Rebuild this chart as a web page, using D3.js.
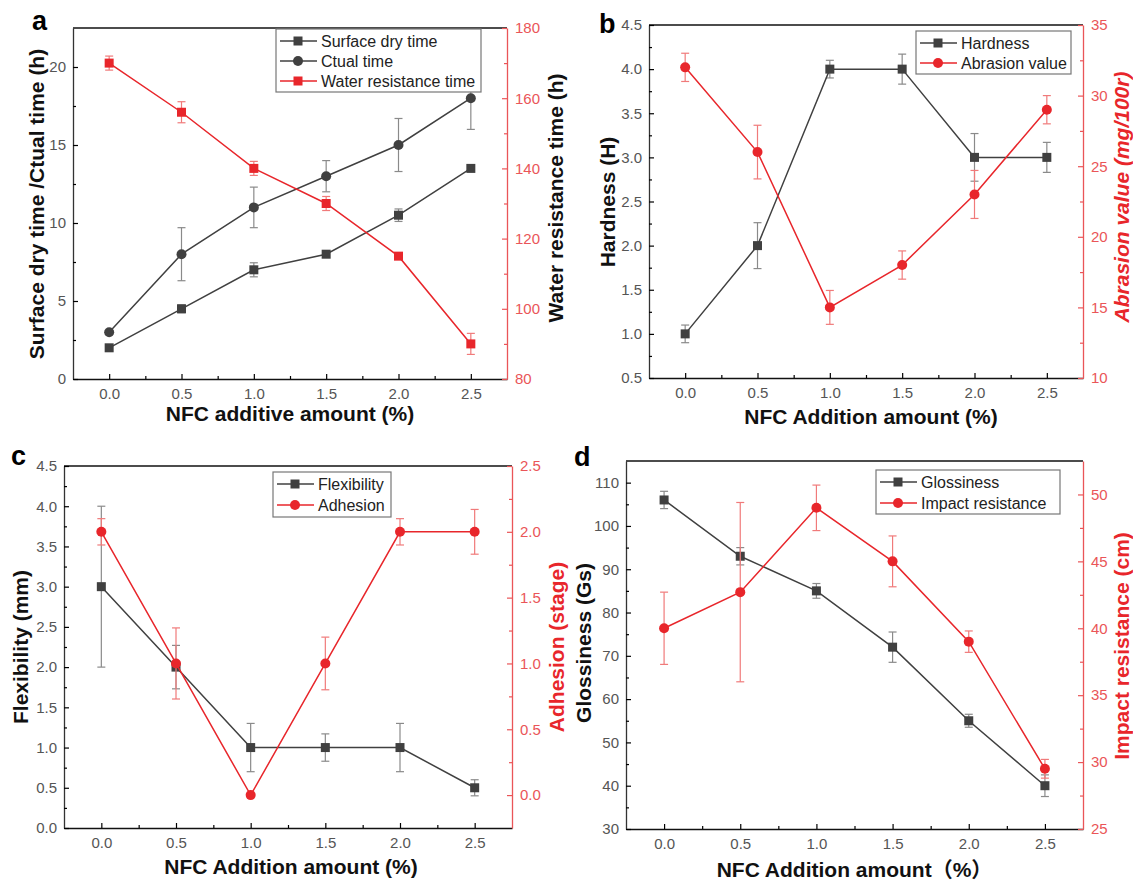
<!DOCTYPE html>
<html>
<head>
<meta charset="utf-8">
<script src="https://cdn.jsdelivr.net/npm/d3@7"></script>
<style>
body { margin: 0; background: #fff; }
text { font-family: Arial, "Liberation Sans", "Noto Sans CJK SC", sans-serif; }
</style>
</head>
<body>
<svg id="chart" width="1133" height="880"></svg>
<script>
// x values shared by all four panels
const nfcAmount = [0, 0.5, 1.0, 1.5, 2.0, 2.5];
const xTicks = [0, 0.5, 1.0, 1.5, 2.0, 2.5];
const xMinor = [0.25, 0.75, 1.25, 1.75, 2.25];

// panel a
const surfaceDry = [2, 4.5, 7, 8, 10.5, 13.5];
const surfaceDryErr = [0, 0.25, 0.45, 0, 0.4, 0];
const ctualTime = [3, 8, 11, 13, 15, 18];
const ctualTimeErr = [0, 1.7, 1.3, 1, 1.7, 2];
const waterRes = [170, 156, 140, 130, 115, 90];
const waterResErr = [2, 3, 2, 2, 0.4, 3];

// panel b
const hardness = [1, 2, 4, 4, 3, 3];
const hardnessErr = [0.1, 0.26, 0.1, 0.17, 0.27, 0.17];
const abrasion = [32, 26, 15, 18, 23, 29];
const abrasionErr = [1, 1.9, 1.2, 1, 1.7, 1];

// panel c
const flexibility = [3, 2, 1, 1, 1, 0.5];
const flexibilityErr = [1, 0.27, 0.3, 0.17, 0.3, 0.1];
const adhesion = [2, 1, 0, 1, 2, 2];
const adhesionErr = [0.1, 0.27, 0, 0.2, 0.1, 0.17];

// panel d
const glossiness = [106, 93, 85, 72, 55, 40];
const glossinessErr = [2, 2, 1.7, 3.5, 1.5, 2.5];
const impact = [40, 42.7, 49, 45, 39, 29.5];
const impactErr = [2.7, 6.7, 1.7, 1.9, 0.8, 0.7];

const DARK = "#404040", DARK_ERR = "#8a8a8a";
const RED = "#e8262b", RED_ERR = "#f07a7a", RED_AXIS = "#ea5558";

const svg = d3.select("#chart");

function drawPanel(p) {
    const g = svg.append("g");
    const b = p.box;
    const x = d3.scaleLinear().domain([-0.25, 2.75]).range([b.l, b.r]);
    const yL = d3.scaleLinear().domain(p.left.domain).range([b.b, b.t]);
    const yR = d3.scaleLinear().domain(p.right.domain).range([b.b, b.t]);

    // top frame line
    g.append("line").attr("x1", b.l).attr("x2", b.r).attr("y1", b.t).attr("y2", b.t)
        .attr("stroke", "#111").attr("stroke-width", 1.3);

    // bottom axis
    const xa = g.append("g").attr("transform", "translate(0," + b.b + ")")
        .call(d3.axisBottom(x).tickValues(xTicks).tickSize(-5).tickSizeOuter(0).tickPadding(9)
            .tickFormat(d3.format(".1f")));
    g.append("g").attr("transform", "translate(0," + b.b + ")")
        .call(d3.axisBottom(x).tickValues(xMinor).tickSize(-3).tickSizeOuter(0).tickFormat(""))
        .select(".domain").remove();
    xa.select(".domain").attr("stroke", "#111").attr("stroke-width", 1.3);

    // left axis
    const la = g.append("g").attr("transform", "translate(" + b.l + ",0)")
        .call(d3.axisLeft(yL).tickValues(p.left.ticks).tickSize(-5).tickSizeOuter(0).tickPadding(7)
            .tickFormat(p.left.fmt));
    g.append("g").attr("transform", "translate(" + b.l + ",0)")
        .call(d3.axisLeft(yL).tickValues(p.left.minor).tickSize(-3).tickSizeOuter(0).tickFormat(""))
        .select(".domain").remove();
    la.select(".domain").attr("stroke", "#333").attr("stroke-width", 1.3);

    // right axis (red)
    const ra = g.append("g").attr("transform", "translate(" + b.r + ",0)")
        .call(d3.axisRight(yR).tickValues(p.right.ticks).tickSize(-5).tickSizeOuter(0).tickPadding(8)
            .tickFormat(p.right.fmt));
    const rm = g.append("g").attr("transform", "translate(" + b.r + ",0)")
        .call(d3.axisRight(yR).tickValues(p.right.minor).tickSize(-3).tickSizeOuter(0).tickFormat(""));
    rm.select(".domain").remove();
    rm.selectAll("line").attr("stroke", RED_AXIS);
    ra.select(".domain").attr("stroke", RED_AXIS).attr("stroke-width", 1.3);
    ra.selectAll("line").attr("stroke", RED_AXIS);
    ra.selectAll("text").attr("fill", RED_AXIS);

    g.selectAll(".tick text").attr("font-size", 15).style("font-family", "Arial, 'Liberation Sans', sans-serif");
    xa.selectAll("text").attr("fill", "#555");
    la.selectAll("text").attr("fill", "#555");
    g.selectAll(".tick line").attr("stroke-width", 1.2);

    // series
    p.series.forEach(s => {
        const y = s.axis === "left" ? yL : yR;
        const pts = nfcAmount.map((v, i) => ({x: v, y: s.vals[i], e: s.err[i]}));
        const eg = g.append("g");
        pts.filter(d => d.e > 0).forEach(d => {
            const cx = x(d.x);
            eg.append("line").attr("x1", cx).attr("x2", cx)
                .attr("y1", y(d.y - d.e)).attr("y2", y(d.y + d.e))
                .attr("stroke", s.errColor).attr("stroke-width", 1.2);
            [d.y - d.e, d.y + d.e].forEach(v => {
                eg.append("line").attr("x1", cx - 4).attr("x2", cx + 4)
                    .attr("y1", y(v)).attr("y2", y(v))
                    .attr("stroke", s.errColor).attr("stroke-width", 1.2);
            });
        });
        g.append("path").datum(pts)
            .attr("d", d3.line().x(d => x(d.x)).y(d => y(d.y)))
            .attr("fill", "none").attr("stroke", s.color).attr("stroke-width", 1.5);
        drawMarkers(g, pts.map(d => [x(d.x), y(d.y)]), s.marker, s.color);
    });

    // legend
    const L = p.legend;
    const lg = g.append("g");
    lg.append("rect").attr("x", L.x).attr("y", L.y).attr("width", L.w).attr("height", L.h)
        .attr("fill", "#fff").attr("stroke", "#777").attr("stroke-width", 1.2);
    p.series.forEach((s, i) => {
        const ry = L.y + 12 + i * L.step;
        lg.append("line").attr("x1", L.x + 4).attr("x2", L.x + 41).attr("y1", ry).attr("y2", ry)
            .attr("stroke", s.color).attr("stroke-width", 1.5);
        drawMarkers(lg, [[L.x + 22, ry]], s.marker, s.color);
        lg.append("text").attr("x", L.x + 45).attr("y", ry).attr("dy", "0.35em")
            .attr("font-size", 16).attr("fill", "#222").text(s.name);
    });

    // titles
    g.append("text").attr("x", p.letter.x).attr("y", p.letter.y)
        .attr("font-size", 27).attr("font-weight", "bold").attr("fill", "#000").text(p.letter.t);
    g.append("text").attr("x", (b.l + b.r) / 2 + p.xTitle.dx).attr("y", p.xTitle.y)
        .attr("text-anchor", "middle").attr("font-size", 21).attr("font-weight", "bold")
        .attr("fill", "#111").text(p.xTitle.t);
    g.append("text").attr("transform", "translate(" + p.leftTitle.x + "," + p.leftTitle.y + ") rotate(-90)")
        .attr("text-anchor", "middle").attr("dy", "0.36em").attr("font-size", 21).attr("font-weight", "bold")
        .attr("fill", "#111").text(p.leftTitle.t);
    g.append("text").attr("transform", "translate(" + p.rightTitle.x + "," + p.rightTitle.y + ") rotate(-90)")
        .attr("text-anchor", "middle").attr("dy", "0.36em").attr("font-size", 21).attr("font-weight", "bold")
        .attr("font-style", p.rightTitle.italic ? "italic" : "normal")
        .attr("fill", p.rightTitle.color).text(p.rightTitle.t);
}

function drawMarkers(g, pts, kind, color) {
    pts.forEach(([px, py]) => {
        if (kind === "square") {
            g.append("rect").attr("x", px - 4.5).attr("y", py - 4.5).attr("width", 9).attr("height", 9)
                .attr("fill", color);
        } else {
            g.append("circle").attr("cx", px).attr("cy", py).attr("r", 5).attr("fill", color);
        }
    });
}

const f1 = d3.format(".1f"), f0 = d3.format("d");

drawPanel({
    box: {l: 73, r: 507, t: 28, b: 379},
    left: {domain: [0, 22.5], ticks: [0, 5, 10, 15, 20], minor: [2.5, 7.5, 12.5, 17.5], fmt: f0},
    right: {domain: [80, 180], ticks: [80, 100, 120, 140, 160, 180], minor: [90, 110, 130, 150, 170], fmt: f0},
    series: [
        {name: "Surface dry time", vals: surfaceDry, err: surfaceDryErr, axis: "left", color: DARK, errColor: DARK_ERR, marker: "square"},
        {name: "Ctual time", vals: ctualTime, err: ctualTimeErr, axis: "left", color: DARK, errColor: DARK_ERR, marker: "circle"},
        {name: "Water resistance time", vals: waterRes, err: waterResErr, axis: "right", color: RED, errColor: RED_ERR, marker: "square"}
    ],
    legend: {x: 276, y: 29, w: 205, h: 63, step: 20},
    letter: {t: "a", x: 32, y: 30},
    xTitle: {t: "NFC additive amount (%)", y: 421, dx: 0},
    leftTitle: {t: "Surface dry time /Ctual time (h)", x: 36, y: 204},
    rightTitle: {t: "Water resistance time (h)", x: 555, y: 198, color: "#111"}
});

drawPanel({
    box: {l: 649, r: 1083, t: 25, b: 378},
    left: {domain: [0.5, 4.5], ticks: d3.range(0.5, 4.51, 0.5), minor: d3.range(0.75, 4.3, 0.5), fmt: f1},
    right: {domain: [10, 35], ticks: [10, 15, 20, 25, 30, 35], minor: [12.5, 17.5, 22.5, 27.5, 32.5], fmt: f0},
    series: [
        {name: "Hardness", vals: hardness, err: hardnessErr, axis: "left", color: DARK, errColor: DARK_ERR, marker: "square"},
        {name: "Abrasion value", vals: abrasion, err: abrasionErr, axis: "right", color: RED, errColor: RED_ERR, marker: "circle"}
    ],
    legend: {x: 916, y: 31, w: 155, h: 43, step: 20},
    letter: {t: "b", x: 599, y: 33},
    xTitle: {t: "NFC Addition amount (%)", y: 424, dx: 5},
    leftTitle: {t: "Hardness (H)", x: 607, y: 202},
    rightTitle: {t: "Abrasion value (mg/100r)", x: 1121, y: 197, color: RED, italic: true}
});

drawPanel({
    box: {l: 64, r: 512, t: 466, b: 828},
    left: {domain: [0, 4.5], ticks: d3.range(0, 4.51, 0.5), minor: d3.range(0.25, 4.3, 0.5), fmt: f1},
    right: {domain: [-0.25, 2.5], ticks: [0, 0.5, 1.0, 1.5, 2.0, 2.5], minor: [0.25, 0.75, 1.25, 1.75, 2.25], fmt: f1},
    series: [
        {name: "Flexibility", vals: flexibility, err: flexibilityErr, axis: "left", color: DARK, errColor: DARK_ERR, marker: "square"},
        {name: "Adhesion", vals: adhesion, err: adhesionErr, axis: "right", color: RED, errColor: RED_ERR, marker: "circle"}
    ],
    legend: {x: 273, y: 472, w: 118, h: 45, step: 21},
    letter: {t: "c", x: 11, y: 465},
    xTitle: {t: "NFC Addition amount (%)", y: 874, dx: 3},
    leftTitle: {t: "Flexibility (mm)", x: 20, y: 647},
    rightTitle: {t: "Adhesion (stage)", x: 556, y: 647, color: RED}
});

drawPanel({
    box: {l: 626, r: 1083, t: 461, b: 829},
    left: {domain: [30, 115], ticks: d3.range(30, 111, 10), minor: d3.range(35, 111, 10), fmt: f0},
    right: {domain: [25, 52.5], ticks: [25, 30, 35, 40, 45, 50], minor: [27.5, 32.5, 37.5, 42.5, 47.5], fmt: f0},
    series: [
        {name: "Glossiness", vals: glossiness, err: glossinessErr, axis: "left", color: DARK, errColor: DARK_ERR, marker: "square"},
        {name: "Impact resistance", vals: impact, err: impactErr, axis: "right", color: RED, errColor: RED_ERR, marker: "circle"}
    ],
    legend: {x: 876, y: 470, w: 184, h: 44, step: 21},
    letter: {t: "d", x: 574, y: 466},
    xTitle: {t: "NFC Addition amount（%）", y: 877, dx: 0},
    leftTitle: {t: "Glossiness (Gs)", x: 583, y: 643},
    rightTitle: {t: "Impact resistance (cm)", x: 1121, y: 646, color: RED}
});
</script>
</body>
</html>
